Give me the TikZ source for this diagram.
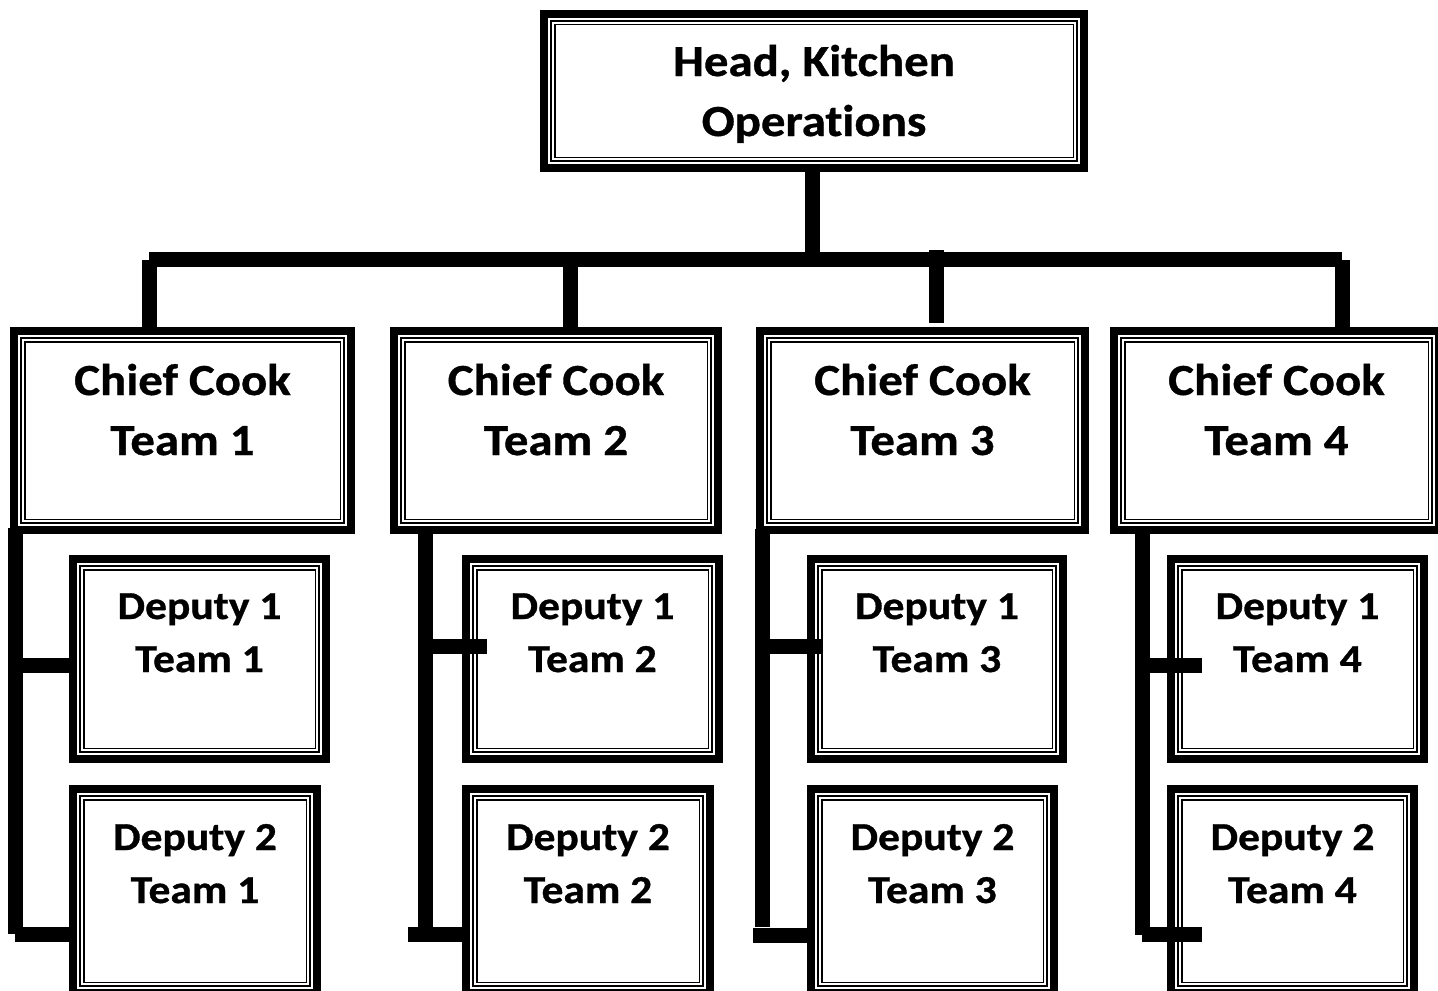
\documentclass[tikz,border=0pt]{standalone}
\usepackage{fontspec}
\setmainfont{Carlito}[FakeStretch=1.1, Ligatures=CommonOff, BoldFeatures={FakeBold=0.8}]
\usetikzlibrary{calc}
\tikzset{
  kbox/.style={draw, rectangle, line width=4pt, inner sep=0pt, outer sep=0pt,
    path picture={
      \draw[line width=1pt]
        ([shift={(3.5pt,3.5pt)}]path picture bounding box.south west) rectangle
        ([shift={(-3.5pt,-3.5pt)}]path picture bounding box.north east);
      \draw[line width=0.7pt]
        ([shift={(5.4pt,5.4pt)}]path picture bounding box.south west) rectangle
        ([shift={(-5.4pt,-5.4pt)}]path picture bounding box.north east);
    }},
  bigtext/.style={anchor=base, inner sep=0pt, align=center,
    font=\fontsize{22.2}{30}\selectfont\bfseries},
  deptext/.style={anchor=base, inner sep=0pt, align=center,
    font=\fontsize{19.8}{26.5}\selectfont\bfseries},
  conn/.style={line width=7.5pt, line cap=butt}
}
\begin{document}
\begin{tikzpicture}[x=0.5pt,y=-0.5pt]
\useasboundingbox (0,0) rectangle (1438,990);

% boxes
\node[kbox, minimum width=270pt, minimum height=77pt] (top) at (814,91) {};
\node[kbox, minimum width=168.5pt, minimum height=99.5pt] (c1) at (182.5,430.5) {};
\node[kbox, minimum width=162pt, minimum height=99.5pt] (c2) at (556,430.5) {};
\node[kbox, minimum width=162.5pt, minimum height=99.5pt] (c3) at (922.5,430.5) {};
\node[kbox, minimum width=162.5pt, minimum height=99.5pt] (c4) at (1276.5,430.5) {};

\node[kbox, minimum width=126.5pt, minimum height=100pt] (d11) at (199.5,659) {};
\node[kbox, minimum width=126.5pt, minimum height=100pt] (d21) at (592.5,659) {};
\node[kbox, minimum width=126pt, minimum height=100pt] (d31) at (937,659) {};
\node[kbox, minimum width=126.5pt, minimum height=100pt] (d41) at (1297.5,659) {};

\node[kbox, minimum width=122pt, minimum height=102pt] (d12) at (195,891) {};
\node[kbox, minimum width=122pt, minimum height=102pt] (d22) at (588,891) {};
\node[kbox, minimum width=121.5pt, minimum height=102pt] (d32) at (932.5,891) {};
\node[kbox, minimum width=121.5pt, minimum height=102pt] (d42) at (1292.5,891) {};

% junction coordinates
\coordinate (busL) at (149,259.5);
\coordinate (busR) at (1342,259.5);
\coordinate (t1) at (149.5,260);
\coordinate (t2) at (570.5,266);
\coordinate (t3) at (936.5,250);
\coordinate (t4) at (1342.5,260);

\coordinate (s1) at (15.5,528);   \coordinate (s1b) at (15.5,934);
\coordinate (s2) at (425.5,533);  \coordinate (s2b) at (425.5,927);
\coordinate (s3) at (762.5,529);  \coordinate (s3b) at (762.5,927);
\coordinate (s4) at (1142,533);   \coordinate (s4b) at (1142,935);

\coordinate (j11) at (15.5,665);  \coordinate (j12) at (15,934.5);
\coordinate (j21) at (425.5,646); \coordinate (j22) at (408,934.5);
\coordinate (j31) at (762.5,646); \coordinate (j32) at (753,935);
\coordinate (j41) at (1142,665);  \coordinate (j42) at (1142,934.5);

% connectors
\draw[conn] ([xshift=-0.75pt]top.south) -- ([xshift=-0.75pt]top.south |- busL);
\draw[conn] (busL) -- (busR);
\draw[conn] (t1) -- (t1 |- c1.north);
\draw[conn] (t2) -- (t2 |- c2.north);
\draw[conn] (t3) -- ([yshift=4pt]c3.north -| t3);
\draw[conn] (t4) -- (t4 |- c4.north);

\draw[conn] (s1) -- (s1b);
\draw[conn] (s2) -- (s2b);
\draw[conn] (s3) -- (s3b);
\draw[conn] (s4) -- (s4b);

\draw[conn] (j11) -- (j11 -| d11.west);
\draw[conn] (j12) -- (j12 -| d12.west);
\draw[conn] (j21) -- ([xshift=10.5pt]d21.west |- j21);
\draw[conn] (j22) -- (j22 -| d22.west);
\draw[conn] (j31) -- ([xshift=6pt]d31.west |- j31);
\draw[conn] (j32) -- (j32 -| d32.west);
\draw[conn] (j41) -- ([xshift=15.5pt]d41.west |- j41);
\draw[conn] (j42) -- ([xshift=15.5pt]d42.west |- j42);

% texts (base anchor = baseline of last line)
\node[bigtext] (toptext) at ([yshift=-61pt]top.north) {Head, Kitchen\\Operat\kern0pt ions};
\node[bigtext] (c1text) at ([yshift=-62pt]c1.north) {Chief Cook\\Team 1};
\node[bigtext] (c2text) at ([yshift=-62pt]c2.north) {Chief Cook\\Team 2};
\node[bigtext] (c3text) at ([yshift=-62pt]c3.north) {Chief Cook\\Team 3};
\node[bigtext] (c4text) at ([yshift=-62pt]c4.north) {Chief Cook\\Team 4};

\node[deptext] (d11text) at ([yshift=-56.5pt]d11.north) {Deputy 1\\Team 1};
\node[deptext] (d21text) at ([yshift=-56.5pt]d21.north) {Deputy 1\\Team 2};
\node[deptext] (d31text) at ([yshift=-56.5pt]d31.north) {Deputy 1\\Team 3};
\node[deptext] (d41text) at ([yshift=-56.5pt]d41.north) {Deputy 1\\Team 4};

\node[deptext] (d12text) at ([yshift=-57pt]d12.north) {Deputy 2\\Team 1};
\node[deptext] (d22text) at ([yshift=-57pt]d22.north) {Deputy 2\\Team 2};
\node[deptext] (d32text) at ([yshift=-57pt]d32.north) {Deputy 2\\Team 3};
\node[deptext] (d42text) at ([yshift=-57pt]d42.north) {Deputy 2\\Team 4};
\end{tikzpicture}
\end{document}
